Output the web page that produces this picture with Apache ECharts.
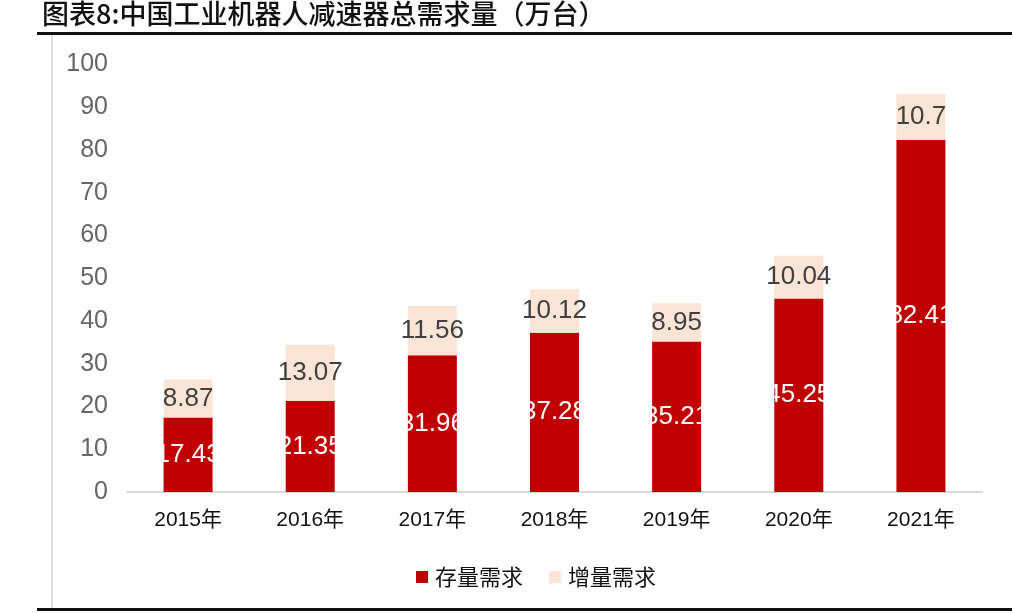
<!DOCTYPE html>
<html><head><meta charset="utf-8">
<script src="https://cdn.jsdelivr.net/npm/echarts@6/dist/echarts.min.js"></script>
<style>html,body{margin:0;padding:0;background:#fff}#c{width:1012px;height:613px}</style>
</head><body><div id="c"></div>
<script>
const categories = ['2015年','2016年','2017年','2018年','2019年','2020年','2021年'];
const stockDemand = [17.43, 21.35, 31.96, 37.28, 35.21, 45.25, 82.41];
const incDemand = [8.87, 13.07, 11.56, 10.12, 8.95, 10.04, 10.7];
const seriesNames = ['存量需求','增量需求'];
const titleText = '图表8:中国工业机器人减速器总需求量（万台）';

const chart = echarts.init(document.getElementById('c'), null, {renderer:'canvas'});
const numFont = '"Liberation Sans Narrow","Liberation Sans",sans-serif';
chart.setOption({
  animation:false,
  backgroundColor:'#fff',
  graphic:[
    {type:'text', left:42, top:0, style:{text:titleText, font:'500 27px "Noto Sans CJK SC"', fill:'#111'}},
    {type:'rect', shape:{x:37,y:32,width:975,height:3}, style:{fill:'#111'}},
    {type:'rect', shape:{x:51,y:35,width:2,height:573}, style:{fill:'#dcdcdc'}},
    {type:'rect', shape:{x:37,y:608,width:975,height:3}, style:{fill:'#111'}}
  ],
  grid:{left:127, right:30, top:64.5, bottom:121},
  legend:{
    data:seriesNames, left:411, top:561, icon:'rect', itemWidth:12, itemHeight:12, itemGap:26,
    textStyle:{fontFamily:'"Noto Sans CJK SC"', fontSize:22, color:'#111', padding:[0,0,0,2]}
  },
  xAxis:{
    type:'category', data:categories,
    axisLine:{lineStyle:{color:'#d9d9d9', width:2}},
    axisTick:{length:7, lineStyle:{color:'#d9d9d9', width:2}},
    axisLabel:{color:'#111', fontSize:21, margin:18, fontFamily:'"Liberation Sans","Noto Sans CJK SC"'}
  },
  yAxis:{
    type:'value', min:0, max:100, interval:10,
    axisLine:{show:false}, axisTick:{show:false}, splitLine:{show:false},
    axisLabel:{color:'#666', fontSize:25, margin:19, fontFamily:numFont}
  },
  series:[
    {name:seriesNames[0], type:'bar', stack:'a', data:stockDemand, barWidth:49,
     itemStyle:{color:'#c00000'},
     label:{show:true, position:'inside', color:'#fff', fontSize:26, fontFamily:numFont}},
    {name:seriesNames[1], type:'bar', stack:'a', data:incDemand, barWidth:49,
     itemStyle:{color:'#fce4d6'},
     label:{show:true, position:'inside', color:'#404040', fontSize:26, fontFamily:numFont}}
  ]
});
</script></body></html>
